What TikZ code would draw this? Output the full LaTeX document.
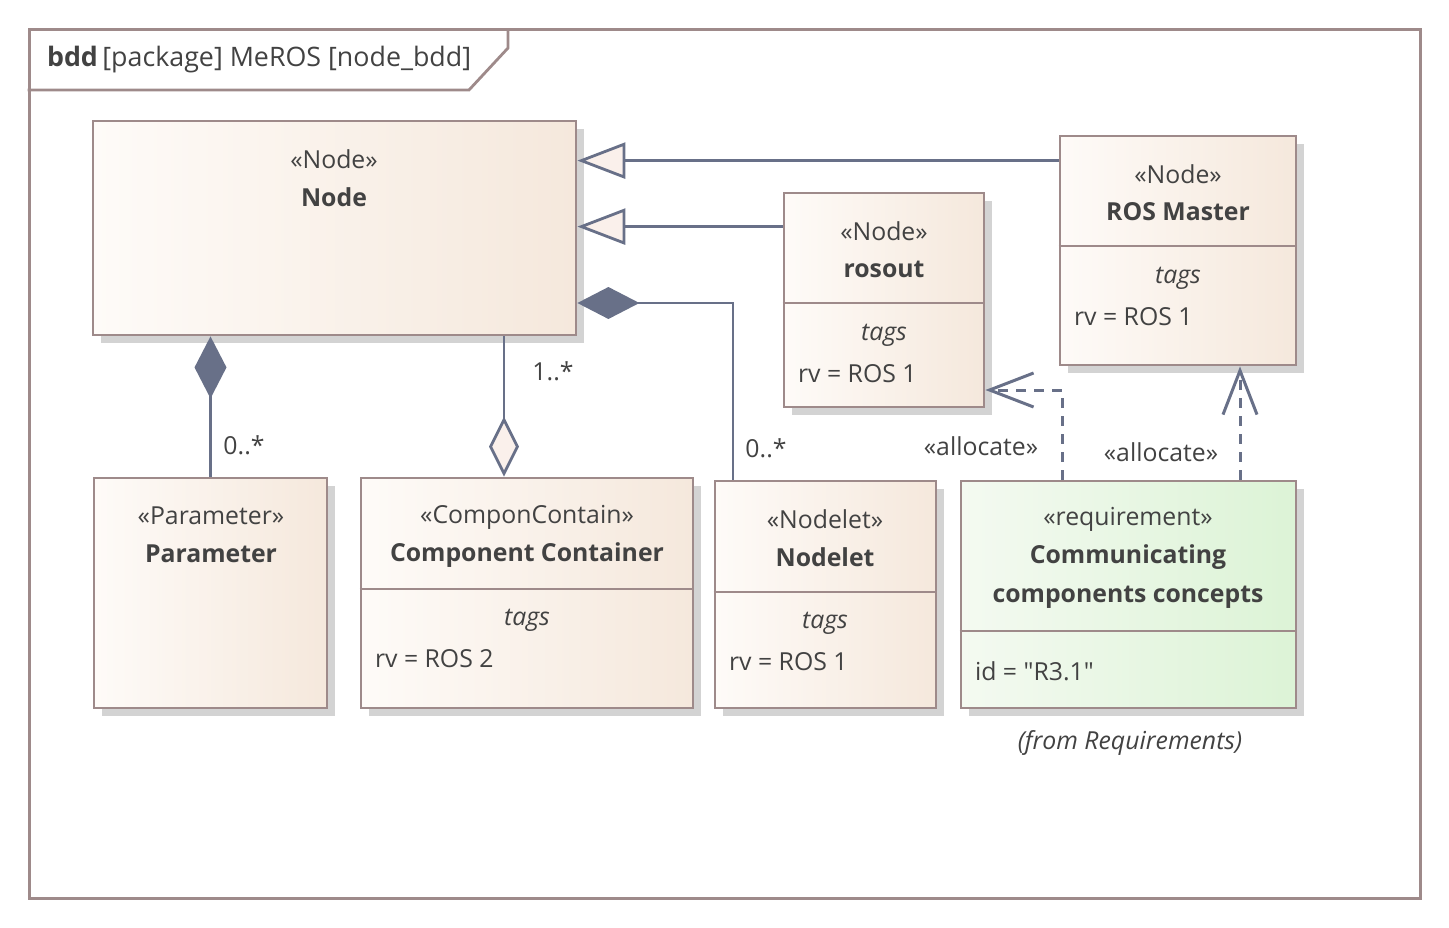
\documentclass[tikz,border=0pt]{standalone}
\usepackage{fontspec}
\setmainfont{Open Sans}
\usetikzlibrary{arrows.meta,fit,shadows}

\definecolor{frameGray}{RGB}{158,138,138}
\definecolor{lineBlue}{RGB}{104,112,136}
\definecolor{textGray}{RGB}{66,66,66}
\definecolor{blockLeft}{RGB}{254,251,248}
\definecolor{blockRight}{RGB}{245,232,220}
\definecolor{reqLeft}{RGB}{244,250,241}
\definecolor{reqRight}{RGB}{220,243,214}
\definecolor{tipFill}{RGB}{250,240,235}
\definecolor{shadowGray}{RGB}{211,211,211}

\begin{document}
\begin{tikzpicture}[
  x=0.5pt, y=-0.5pt,
  every node/.style={align=center, text=textGray, font=\fontsize{12.4}{15}\selectfont},
  block/.style={draw=frameGray, line width=1.4pt, inner sep=0pt, left color=blockLeft, right color=blockRight,
    drop shadow={shadow xshift=4pt, shadow yshift=-4pt, fill=shadowGray, opacity=1}},
  reqblock/.style={block, left color=reqLeft, right color=reqRight},
  diagramframe/.style={draw=frameGray, line width=1.5pt, inner sep=0pt},
  divider/.style={draw=frameGray, line width=1.4pt},
  blockname/.style={font=\fontsize{12.4}{15}\selectfont\bfseries},
  tagtext/.style={font=\fontsize{12.4}{15}\selectfont\itshape},
  generalize/.style={-{Triangle[length=24pt, width=18pt, fill=tipFill]}, draw=lineBlue, line width=1.4pt},
  compose/.style={{Diamond[length=31pt, width=16pt]}-, draw=lineBlue, line width=1.4pt},
  aggregate/.style={-{Diamond[length=30pt, width=15pt, fill=tipFill]}, draw=lineBlue, line width=1.4pt},
  allocate/.style={-{Straight Barb[length=22pt, width=17pt]}, draw=lineBlue, line width=1.5pt, dash pattern=on 5pt off 4pt}]

\useasboundingbox (0,0) rectangle (1449,927);

% Frame and its tab
\node[diagramframe, fit={(29,29) (1420,898)}] (diagramFrame) {};
\draw[divider] (diagramFrame.north west |- 0,90) -- (469,90) -- (508,48) -- (508,29);
\node[anchor=west, font=\fontsize{13.4}{16}\selectfont] (frameLabel) at (40,60) {\textbf{bdd}\,[package] MeROS [node\_bdd]};

% Blocks
\node[block, fit={(93,121) (576,335)}] (nodeBlock) {};
\node (nodeStereo) at (334,159) {«Node»};
\node[blockname] (nodeName) at (334,197) {Node};

\node[block, fit={(1060,136) (1296,365)}] (rosMaster) {};
\draw[divider] (rosMaster.west |- 0,246) -- (rosMaster.east |- 0,246);
\node (rosMasterStereo) at (1178,174) {«Node»};
\node[blockname] (rosMasterName) at (1178,212) {ROS Master};
\node[tagtext] (rosMasterTags) at (1178,278) {tags};
\node[anchor=west] (rosMasterRv) at (1067,317) {rv = ROS 1};

\node[block, fit={(784,193) (984,407)}] (rosout) {};
\draw[divider] (rosout.west |- 0,303) -- (rosout.east |- 0,303);
\node (rosoutStereo) at (884,231) {«Node»};
\node[blockname] (rosoutName) at (884,269) {rosout};
\node[tagtext] (rosoutTags) at (884,335) {tags};
\node[anchor=west] (rosoutRv) at (791,374) {rv = ROS 1};

\node[block, fit={(94,478) (327,708)}] (parameter) {};
\node (parameterStereo) at (211,516) {«Parameter»};
\node[blockname] (parameterName) at (211,554) {Parameter};

\node[block, fit={(361,478) (693,708)}] (componentContainer) {};
\draw[divider] (componentContainer.west |- 0,589) -- (componentContainer.east |- 0,589);
\node (containerStereo) at (527,517) {«ComponContain»};
\node[blockname] (containerName) at (527,555) {Component Container};
\node[tagtext] (containerTags) at (527,620) {tags};
\node[anchor=west] (containerRv) at (368,659) {rv = ROS 2};

\node[block, fit={(715,481) (936,708)}] (nodelet) {};
\draw[divider] (nodelet.west |- 0,592) -- (nodelet.east |- 0,592);
\node (nodeletStereo) at (825,519) {«Nodelet»};
\node[blockname] (nodeletName) at (825,557) {Nodelet};
\node[tagtext] (nodeletTags) at (825,623) {tags};
\node[anchor=west] (nodeletRv) at (722,662) {rv = ROS 1};

\node[reqblock, fit={(961,481) (1296,708)}] (requirement) {};
\draw[divider] (requirement.west |- 0,631) -- (requirement.east |- 0,631);
\node (requirementStereo) at (1128,519) {«requirement»};
\node[blockname] (requirementName) at (1128,577) {Communicating\\[4.5pt]components concepts};
\node[anchor=west] (requirementId) at (968,671) {id = \textquotedbl R3.1\textquotedbl};
\node[tagtext] (requirementFrom) at (1130,743) {(from Requirements)};

% Generalizations
\draw[generalize] ([yshift=-13pt]rosMaster.north west) coordinate (genA) -- (genA -| nodeBlock.east);
\draw[generalize] ([yshift=-17.5pt]rosout.north west) coordinate (genB) -- (genB -| nodeBlock.east);

% Compositions and aggregation
\draw[compose] (nodeBlock.south -| parameter.north) -- (parameter.north);
\draw[compose] (nodeBlock.east |- 0,303) -- (733,303) -- (nodelet.north -| 733,0);
\draw[aggregate] (nodeBlock.south -| 504,0) -- (componentContainer.north -| 504,0);
\node (paramMult) at (244,445) {0..*};
\node (containerMult) at (553,371) {1..*};
\node (nodeletMult) at (766,448) {0..*};

% Allocations
\draw[allocate] (requirement.north -| 1062,0) -- (1062,390) -- (rosout.east |- 0,390);
\draw[allocate] (requirement.north -| 1240,0) -- (rosMaster.south -| 1240,0);
\node (allocateLeft) at (981,446) {«allocate»};
\node (allocateRight) at (1161,452) {«allocate»};

\end{tikzpicture}
\end{document}
